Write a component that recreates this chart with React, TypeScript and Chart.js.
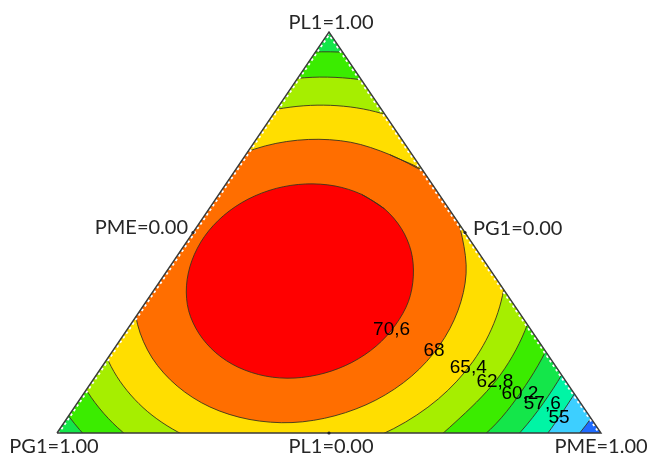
import React, { useEffect, useRef } from "react";
import { Chart, registerables } from "chart.js";

Chart.register(...registerables);

// Ternary frame: x runs along the base from PG1=1 (x=0) to PME=1 (x=1), x = PME + PL1/2 ; y = PL1.
const TRIANGLE: [number, number][] = [[0, 0], [0.5, 1], [1, 0]];
const EDGE_TICKS: [number, number][] = [[0.25, 0.5], [0.75, 0.5], [0.5, 0]];

const AXIS_TEXT = ["PL1=1.00", "PME=0.00", "PG1=0.00", "PG1=1.00", "PL1=0.00", "PME=1.00"];
const AXIS_AT: [number, number][] = [[0.5, 1], [0.25, 0.5], [0.75, 0.5], [0, 0], [0.5, 0], [1, 0]];

// contour levels (region above each level gets the matching band colour)
const LEVELS = [52.4, 55, 57.6, 60.2, 62.8, 65.4, 68, 70.6];
const BELOW_COLOR = "#1f6bff";
const BAND_COLORS = ["#3dcfff", "#00f5a5", "#14e64a", "#3bec00", "#a6ee00", "#ffde00", "#ff6e00", "#ff0000"];

const LEVEL_LABELS = ["70,6", "68", "65,4", "62,8", "60,2", "57,6", "55"];
const LEVEL_LABEL_AT: [number, number][] = [
  [0.615, 0.258], [0.693, 0.206], [0.756, 0.163], [0.805, 0.127], [0.851, 0.097], [0.892, 0.072], [0.923, 0.039],
];

// contour outlines (x, y in the ternary frame)
const C70_6: [number, number][] = [
  [0.602, 0.559], [0.633, 0.510], [0.651, 0.453], [0.655, 0.391], [0.646, 0.328], [0.622, 0.269],
  [0.587, 0.217], [0.542, 0.176], [0.491, 0.149], [0.436, 0.137], [0.383, 0.142], [0.333, 0.164],
  [0.292, 0.200], [0.261, 0.248], [0.242, 0.305], [0.238, 0.367], [0.248, 0.430], [0.271, 0.490],
  [0.306, 0.542], [0.351, 0.583], [0.403, 0.610], [0.457, 0.621], [0.511, 0.616], [0.560, 0.595],
];
const C68: [number, number][] = [
  [0.680, 0.648], [0.724, 0.574], [0.745, 0.487], [0.752, 0.397], [0.737, 0.305], [0.703, 0.218],
  [0.652, 0.142], [0.586, 0.082], [0.511, 0.043], [0.432, 0.026], [0.353, 0.034], [0.281, 0.065],
  [0.221, 0.117], [0.175, 0.187], [0.148, 0.271], [0.142, 0.362], [0.156, 0.454], [0.190, 0.540],
  [0.242, 0.616], [0.307, 0.676], [0.383, 0.716], [0.462, 0.732], [0.540, 0.725], [0.612, 0.694],
];
const C65_4: [number, number][] = [
  [0.727, 0.704], [0.783, 0.617], [0.817, 0.513], [0.825, 0.401], [0.807, 0.287], [0.765, 0.179],
  [0.701, 0.085], [0.619, 0.011], [0.526, -0.038], [0.428, -0.059], [0.331, -0.049], [0.242, -0.011],
  [0.166, 0.054], [0.110, 0.141], [0.077, 0.245], [0.069, 0.357], [0.087, 0.471], [0.129, 0.579],
  [0.193, 0.673], [0.274, 0.747], [0.367, 0.796], [0.466, 0.817], [0.563, 0.808], [0.652, 0.769],
];
const C62_8: [number, number][] = [
  [0.772, 0.756], [0.837, 0.655], [0.876, 0.535], [0.885, 0.404], [0.865, 0.272], [0.816, 0.147],
  [0.741, 0.038], [0.660, -0.048], [0.539, -0.105], [0.425, -0.129], [0.312, -0.118], [0.209, -0.073],
  [0.121, 0.002], [0.056, 0.103], [0.018, 0.223], [0.008, 0.354], [0.029, 0.486], [0.078, 0.611],
  [0.152, 0.720], [0.246, 0.806], [0.354, 0.863], [0.469, 0.887], [0.581, 0.876], [0.685, 0.832],
];
const C60_2: [number, number][] = [
  [0.812, 0.803], [0.886, 0.689], [0.929, 0.554], [0.939, 0.408], [0.916, 0.259], [0.861, 0.118],
  [0.786, -0.004], [0.672, -0.101], [0.551, -0.165], [0.422, -0.192], [0.296, -0.180], [0.179, -0.129],
  [0.081, -0.045], [0.008, 0.069], [-0.036, 0.204], [-0.046, 0.351], [-0.023, 0.499], [0.032, 0.640],
  [0.116, 0.763], [0.222, 0.859], [0.343, 0.923], [0.471, 0.950], [0.598, 0.938], [0.714, 0.888],
];
const C57_6: [number, number][] = [
  [0.850, 0.846], [0.930, 0.721], [0.978, 0.572], [0.990, 0.410], [0.964, 0.247], [0.903, 0.092],
  [0.818, -0.043], [0.695, -0.150], [0.561, -0.220], [0.420, -0.250], [0.280, -0.236], [0.152, -0.181],
  [0.044, -0.088], [-0.037, 0.038], [-0.085, 0.186], [-0.096, 0.348], [-0.071, 0.512], [-0.010, 0.666],
  [0.082, 0.802], [0.199, 0.908], [0.332, 0.978], [0.474, 1.010], [0.613, 0.997], [0.742, 0.939],
];
const C55: [number, number][] = [
  [0.881, 0.882], [0.968, 0.747], [1.019, 0.587], [1.031, 0.413], [1.004, 0.236], [0.938, 0.070],
  [0.852, -0.076], [0.714, -0.191], [0.570, -0.266], [0.418, -0.298], [0.267, -0.284], [0.129, -0.224],
  [0.013, -0.124], [-0.074, 0.011], [-0.125, 0.171], [-0.138, 0.345], [-0.110, 0.522], [-0.045, 0.689],
  [0.054, 0.834], [0.180, 0.949], [0.324, 1.025], [0.476, 1.056], [0.626, 1.042], [0.764, 0.982],
];
const C52_4: [number, number][] = [
  [0.921, 0.928], [1.016, 0.781], [1.072, 0.606], [1.086, 0.416], [1.056, 0.223], [0.984, 0.041],
  [0.876, -0.118], [0.739, -0.244], [0.581, -0.326], [0.415, -0.361], [0.251, -0.345], [0.100, -0.280],
  [-0.028, -0.170], [-0.122, -0.023], [-0.179, 0.152], [-0.192, 0.342], [-0.162, 0.535], [-0.091, 0.717],
  [0.018, 0.876], [0.155, 1.002], [0.312, 1.084], [0.479, 1.119], [0.643, 1.104], [0.793, 1.039],
];
const CONTOURS = [C52_4, C55, C57_6, C60_2, C62_8, C65_4, C68, C70_6];

const toPts = (a: [number, number][]) => a.map(([x, y]) => ({ x, y }));
const closedLoop = (a: [number, number][]) => toPts([a[a.length - 1], ...a, a[0]]);

const clipPlugin = {
  id: "triangleClip",
  beforeDatasetsDraw(chart: any) {
    const { ctx, scales } = chart;
    ctx.save();
    ctx.beginPath();
    TRIANGLE.forEach(([vx, vy], i) => {
      const px = scales.x.getPixelForValue(vx);
      const py = scales.y.getPixelForValue(vy);
      if (i === 0) ctx.moveTo(px, py);
      else ctx.lineTo(px, py);
    });
    ctx.closePath();
    ctx.clip();
    chart.$triClipped = true;
  },
  beforeDatasetDraw(chart: any, args: any) {
    const ds = chart.data.datasets[args.index];
    if (chart.$triClipped && ds && ds.unclipped) {
      chart.ctx.restore();
      chart.$triClipped = false;
    }
  },
  afterDatasetsDraw(chart: any) {
    if (chart.$triClipped) {
      chart.ctx.restore();
      chart.$triClipped = false;
    }
  },
};

const AXIS_STYLE = [
  { align: "center", dx: 2, dy: -3 },
  { align: "right", dx: -5, dy: 1 },
  { align: "left", dx: 8, dy: 2 },
  { align: "center", dx: -3, dy: 20 },
  { align: "center", dx: 2, dy: 20 },
  { align: "center", dx: 0, dy: 20 },
];

const labelPlugin = {
  id: "ternaryLabels",
  afterDraw(chart: any) {
    const { ctx, scales } = chart;
    ctx.save();
    ctx.font = '20px Lato, "Open Sans", sans-serif';
    ctx.fillStyle = "#262626";
    ctx.textBaseline = "alphabetic";
    AXIS_TEXT.forEach((t, i) => {
      const [vx, vy] = AXIS_AT[i];
      const s = AXIS_STYLE[i];
      ctx.textAlign = s.align;
      ctx.fillText(t, scales.x.getPixelForValue(vx) + s.dx, scales.y.getPixelForValue(vy) + s.dy);
    });
    ctx.font = '19px "Liberation Sans", Arial, sans-serif';
    ctx.fillStyle = "#000";
    ctx.textAlign = "center";
    ctx.textBaseline = "middle";
    LEVEL_LABELS.forEach((t, i) => {
      const [vx, vy] = LEVEL_LABEL_AT[i];
      ctx.fillText(t, scales.x.getPixelForValue(vx), scales.y.getPixelForValue(vy));
    });
    ctx.restore();
  },
};

export default function App() {
  const ref = useRef<HTMLCanvasElement>(null);

  useEffect(() => {
    if (!ref.current) return;
    const paint: any[] = [];
    paint.push({
      label: "< 52.4",
      data: toPts([...TRIANGLE, TRIANGLE[0]]),
      fill: "shape",
      backgroundColor: BELOW_COLOR,
      borderWidth: 0,
      tension: 0,
    });
    CONTOURS.forEach((c, i) => {
      paint.push({
        label: `> ${LEVELS[i]}`,
        data: closedLoop(c),
        fill: "shape",
        backgroundColor: BAND_COLORS[i],
        borderColor: "rgba(60,52,30,0.9)",
        borderWidth: 1,
        tension: 0.33,
        capBezierPoints: false,
      });
    });
    paint.push({
      label: "edge notches",
      data: toPts(TRIANGLE),
      fill: false,
      borderColor: "#ffffff",
      borderWidth: 5,
      borderDash: [2.5, 3],
      tension: 0,
      clip: false,
      unclipped: true,
    });
    paint.push({
      label: "frame",
      data: toPts([...TRIANGLE, TRIANGLE[0]]),
      fill: false,
      borderColor: "#3a3a3a",
      borderWidth: 1.4,
      borderJoinStyle: "miter",
      tension: 0,
      clip: false,
      unclipped: true,
    });
    paint.push({
      label: "ticks",
      data: toPts(EDGE_TICKS),
      showLine: false,
      pointRadius: 1.6,
      pointBackgroundColor: "#222",
      pointBorderWidth: 0,
      clip: false,
      unclipped: true,
    });
    const datasets = paint.map((d, i) => ({
      pointRadius: 0,
      pointHoverRadius: 0,
      ...d,
      order: paint.length - i,
    }));

    const chart = new Chart(ref.current, {
      type: "line",
      data: { datasets },
      options: {
        animation: false,
        responsive: true,
        maintainAspectRatio: false,
        events: [],
        layout: { padding: { left: 57, right: 49, top: 32, bottom: 23 } },
        scales: {
          x: { type: "linear", min: 0, max: 1, display: false },
          y: { type: "linear", min: 0, max: 1, display: false },
        },
        plugins: {
          legend: { display: false },
          tooltip: { enabled: false },
        },
      },
      plugins: [clipPlugin, labelPlugin],
    } as any);
    return () => chart.destroy();
  }, []);

  return (
    <div style={{ position: "absolute", left: 0, top: 0, width: 650, height: 456, background: "#fff" }}>
      <canvas ref={ref} />
    </div>
  );
}
